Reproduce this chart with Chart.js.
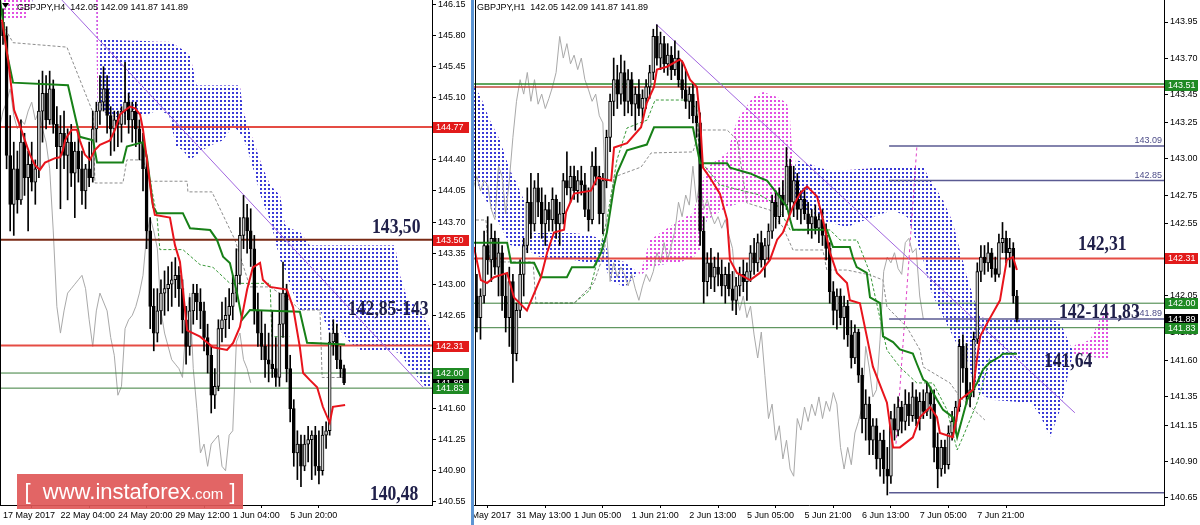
<!DOCTYPE html>
<html lang="en">
<head>
<meta charset="UTF-8">
<title>GBPJPY H4 / H1</title>
<script src="https://cdn.jsdelivr.net/npm/chart.js"></script>
<style>
  body { margin: 0; background: #fff; }
  #wrap { position: relative; width: 1200px; height: 525px; overflow: hidden; background: #fff; }
  #h4Chart { position: absolute; left: 0; top: 0; z-index: 2; }
  #h1Chart { position: absolute; left: 454px; top: 0; z-index: 1; }
  .separator { position: absolute; left: 471px; top: 0; width: 3px; height: 525px; background: #5d95d3; z-index: 3; }
  .watermark {
    position: absolute; left: 17px; top: 474px; width: 226px; height: 35px; z-index: 4;
    background: rgba(224, 88, 88, 0.92); color: #fff; white-space: nowrap;
    font-family: 'Liberation Sans', Arial, sans-serif; font-size: 22px; line-height: 35px; text-align: center;
  }
  .watermark .com { font-size: 15px; }
</style>
</head>
<body>
<div id="wrap">
  <canvas id="h4Chart" width="472" height="525"></canvas>
  <canvas id="h1Chart" width="746" height="525"></canvas>
  <div class="separator"></div>
  <div class="watermark">[&nbsp; www.instaforex<span class="com">.com</span> ]</div>
</div>

<script>
// ================= H4 panel data =================
const h4Open = [
  145.95,145.80,144.45,143.90,144.30,143.95,144.60,144.20,144.35,144.15,
  144.30,144.95,145.15,144.85,145.20,144.80,144.55,144.70,144.45,144.60,
  144.25,144.50,144.30,144.05,144.30,144.20,144.75,144.95,145.05,145.20,
  144.90,144.75,144.85,144.80,144.95,145.05,144.85,144.95,144.75,144.60,
  144.30,143.60,142.75,142.45,142.70,142.90,142.95,143.00,143.05,143.10,
  142.95,142.60,142.30,142.70,142.90,142.80,142.70,142.40,142.20,141.75,
  141.85,142.50,142.60,142.65,142.75,142.90,143.10,143.55,143.75,143.60,
  143.40,142.70,142.45,142.30,142.15,142.10,142.05,141.95,142.55,142.90,
  142.05,141.60,141.10,141.20,140.95,141.20,141.25,141.30,140.95,140.90,
  141.30,141.35,142.35,142.45,142.15,142.05];
const h4High = [
  146.10,145.90,144.90,144.60,144.50,144.85,144.70,144.50,144.60,144.40,
  145.30,145.40,145.35,145.40,145.30,145.00,144.90,144.95,144.75,144.80,
  144.60,144.70,144.50,144.35,144.60,144.95,145.05,145.35,145.45,145.35,
  145.00,144.95,144.95,145.00,145.50,145.15,145.05,145.05,144.85,144.70,
  144.40,143.75,142.95,142.95,143.05,143.15,143.20,143.25,143.30,143.20,
  143.05,142.75,142.85,143.00,143.00,142.95,142.80,142.55,142.30,142.05,
  142.60,142.80,142.85,142.95,143.10,143.40,143.75,144.00,143.90,143.85,
  143.55,142.90,142.70,142.55,142.45,142.70,142.40,142.90,143.25,143.00,
  142.20,141.70,141.35,141.30,141.30,141.40,141.35,141.40,141.35,141.40,
  141.45,142.45,142.60,142.55,142.30,142.09];
const h4Low = [
  145.70,144.30,143.60,143.55,143.80,143.90,144.00,143.60,144.05,143.90,
  144.20,144.60,144.75,144.80,144.70,144.30,143.85,144.30,143.95,144.10,
  143.75,144.15,143.90,143.85,144.10,144.15,144.60,144.80,144.95,144.70,
  144.45,144.50,144.55,144.60,144.80,144.70,144.60,144.55,144.40,144.05,
  143.40,142.50,142.25,142.35,142.55,142.65,142.70,142.75,142.85,142.75,
  142.45,142.10,142.20,142.55,142.60,142.50,142.25,142.00,141.55,141.60,
  141.80,142.35,142.40,142.50,142.60,142.80,143.00,143.40,143.35,143.20,
  142.55,142.30,142.15,141.95,141.90,141.95,141.85,141.85,142.40,141.90,
  141.45,140.95,140.80,140.72,140.90,141.00,140.80,140.85,140.75,140.85,
  141.15,141.30,142.20,142.05,141.95,141.87];
const h4Close = [
  145.80,144.45,143.90,144.30,143.95,144.60,144.20,144.35,144.15,144.30,
  144.95,145.15,144.85,145.20,144.80,144.55,144.70,144.45,144.60,144.25,
  144.50,144.30,144.05,144.30,144.20,144.75,144.95,145.05,145.20,144.90,
  144.75,144.85,144.80,144.95,145.05,144.85,144.95,144.75,144.60,144.30,
  143.60,142.75,142.45,142.70,142.90,142.95,143.00,143.05,143.10,142.95,
  142.60,142.30,142.70,142.90,142.80,142.70,142.40,142.20,141.75,141.85,
  142.50,142.60,142.65,142.75,142.90,143.10,143.55,143.75,143.60,143.40,
  142.70,142.45,142.30,142.15,142.10,142.05,141.95,142.55,142.90,142.05,
  141.60,141.10,141.20,140.95,141.20,141.25,141.30,140.95,140.90,141.30,
  141.35,142.35,142.45,142.15,142.05,141.89];

// tenkan / kijun vertices [bar, price]
const h4Tenkan = [[-0.3,145.98],[1.4,145.53],[3.1,144.96],[4.7,144.79],[6.1,144.62],[7.5,144.46],[8.9,144.34],[10.3,144.29],[11.7,144.37],[14.5,144.42],[15.9,144.43],[16.7,144.51],[17.3,144.62],[18.1,144.68],[19.2,144.74],[20.6,144.74],[21.4,144.62],[22.8,144.46],[24.2,144.40],[25.6,144.51],[27,144.57],[29.8,144.62],[31.2,144.74],[32.6,144.91],[34,144.96],[35.4,145.00],[36.8,144.98],[38.2,144.91],[39,144.74],[40.1,144.40],[41.5,143.95],[42.3,143.78],[46.5,143.75],[47.9,143.44],[49.3,143.25],[51.3,142.48],[54.9,142.41],[58.5,142.29],[62.4,142.26],[64.1,142.34],[66,142.52],[68,142.94],[69.6,143.19],[71.6,143.24],[72.4,143.05],[74.4,142.97],[79.1,142.94],[80.8,142.74],[82.7,142.29],[83.6,142.00],[85.5,141.92],[87.5,141.84],[89.1,141.62],[91,141.44],[91.9,141.62],[95.3,141.64]];
const h4Kijun = [[-0.8,146.20],[1.1,145.60],[2.8,145.27],[18.1,145.24],[21.4,144.66],[25.1,144.62],[26.2,144.37],[33.4,144.37],[34.5,144.55],[39,144.60],[40.1,144.43],[41.8,143.87],[42.9,143.80],[50.1,143.80],[52.1,143.63],[57.7,143.61],[59.6,143.50],[61.3,143.31],[63.2,143.24],[65.2,142.90],[66.6,142.60],[68.8,142.71],[82.7,142.69],[84.7,142.34],[95.3,142.32]];

// cloud: bar positions, span A, span B
const h4CloudBar = [0,6.1,8.9,24.2,25.9,26.3,27.2,31.2,40.1,43.2,46.2,48.2,50.1,52.1,54,57.1,61.3,64.1,66,66.9,68.2,70.2,72.1,74.4,77.2,78.6,79.9,82.7,85.5,88.3,91.1,93,96.7,99.4,109.2,110.6,112.8,116.2,117.8,119.5];
const h4SpanA = [146.53,146.53,146.53,146.42,146.42,146.40,144.96,144.88,144.91,144.96,144.91,144.55,144.51,144.40,144.46,144.55,144.62,144.79,144.70,144.65,144.51,144.23,143.95,143.72,143.27,143.16,142.99,142.71,142.71,142.71,142.44,142.52,142.34,142.26,142.24,142.22,142.09,141.92,141.84,141.86];
const h4SpanB = [145.98,145.98,146.26,146.31,146.26,144.96,145.75,145.75,145.74,145.73,145.73,145.69,145.64,145.58,145.24,145.24,145.24,145.24,145.24,144.96,144.79,144.57,144.34,144.12,144.00,143.67,143.63,143.59,143.44,143.44,143.44,143.44,143.44,143.44,143.44,143.10,142.82,142.74,142.59,142.48];

// dashed reference lines [bar, price]
const h4GrayDash = [[0,145.92],[2.8,145.72],[17.8,145.67],[25.1,144.93],[25.6,144.14],[33.4,144.14],[34.5,144.40],[39,144.40],[40.9,144.16],[51.3,144.16],[51.5,144.04],[58.2,144.04],[64.6,143.50],[68.8,142.97],[74.4,142.97],[79.9,142.82],[82.7,142.71],[88.3,142.71],[88.9,141.95],[95.3,141.95]];
const h4GreenDash = [[39,144.63],[40.9,144.18],[42.9,143.76],[43.7,143.39],[50.1,143.39],[54.9,143.22],[58.5,143.19],[63.2,143.01],[74.4,143.01],[74.9,142.41],[79.9,142.41]];
const h4Trend = [[16.4,146.20],[117,141.84]];

const h4Levels = [144.77, 143.50, 142.31, 142.00, 141.83];
const h4BoxPrices = [141.89, 144.77, 143.50, 142.31, 142.00, 141.83];
const h4TickBars = [0, 16, 32, 48, 64, 80];
const h4TickLabels = ['17 May 2017', '22 May 04:00', '24 May 20:00', '29 May 12:00', '1 Jun 04:00', '5 Jun 20:00'];
const h4PriceTicks = [146.15,145.80,145.45,145.10,144.75,144.40,144.05,143.70,143.35,143.00,142.65,142.30,141.95,141.60,141.25,140.90,140.55];
const h4Notes = ['143,50', '142,85-143', '140,48'];

// ================= H1 panel data =================
const h1Open = [
  142.05,141.90,142.05,142.40,142.30,142.45,142.25,142.35,142.05,141.90,
  142.15,141.65,141.95,142.20,142.40,142.70,142.55,142.80,142.70,142.55,
  142.65,142.58,142.72,142.55,142.62,142.85,142.80,142.88,142.78,142.85,
  142.82,142.65,142.58,142.95,142.88,142.62,142.85,143.15,143.40,143.55,
  143.45,143.60,143.40,143.55,143.38,143.45,143.35,143.42,143.50,143.60,
  143.85,143.70,143.80,143.66,143.72,143.62,143.70,143.55,143.48,143.40,
  143.45,143.30,143.25,142.50,142.15,142.28,142.18,142.25,142.20,142.12,
  142.20,142.10,142.02,142.12,142.20,142.15,142.22,142.35,142.28,142.42,
  142.30,142.40,142.50,142.70,142.60,142.75,142.68,142.95,142.70,142.85,
  142.65,142.72,142.62,142.55,142.60,142.52,142.58,142.47,142.38,142.08,
  141.95,142.05,141.90,141.98,141.78,141.62,141.80,141.50,141.20,141.30,
  141.05,141.15,140.92,141.05,140.85,140.80,141.20,141.12,141.28,141.18,
  141.30,141.22,141.35,141.20,141.32,141.25,141.38,141.30,141.00,140.85,
  141.00,140.88,141.10,141.18,141.28,141.70,141.55,141.35,141.40,141.75,
  142.22,142.32,142.28,142.35,142.24,142.20,142.42,142.45,142.35,142.38,
  142.05];
const h1High = [
  142.20,142.10,142.50,142.60,142.55,142.50,142.45,142.40,142.20,142.25,
  142.20,142.00,142.30,142.45,142.80,142.90,142.85,142.90,142.80,142.75,
  142.70,142.80,142.75,142.70,142.90,143.05,142.95,142.95,142.92,142.95,
  142.90,142.80,143.05,143.08,142.95,142.90,143.20,143.45,143.70,143.65,
  143.72,143.68,143.62,143.60,143.50,143.55,143.48,143.55,143.65,143.90,
  143.93,143.88,143.85,143.80,143.78,143.82,143.75,143.68,143.62,143.50,
  143.52,143.40,143.32,142.60,142.35,142.38,142.32,142.35,142.30,142.25,
  142.28,142.22,142.18,142.25,142.30,142.28,142.40,142.45,142.48,142.50,
  142.45,142.55,142.75,142.78,142.80,142.85,143.08,143.00,142.95,142.90,
  142.78,142.80,142.70,142.65,142.68,142.62,142.65,142.55,142.42,142.15,
  142.10,142.10,142.05,142.02,141.88,141.85,141.82,141.55,141.40,141.35,
  141.20,141.20,141.10,141.12,141.00,141.25,141.30,141.35,141.32,141.40,
  141.38,141.45,141.40,141.38,141.40,141.45,141.42,141.40,141.10,141.05,
  141.05,141.15,141.25,141.32,141.75,141.78,141.72,141.45,141.80,142.28,
  142.40,142.40,142.42,142.38,142.32,142.48,142.56,142.50,142.45,142.42,
  142.09];
const h1Low = [
  141.80,141.75,142.00,142.20,142.15,142.20,142.05,141.95,141.80,141.70,
  141.45,141.60,141.90,142.05,142.35,142.45,142.50,142.60,142.45,142.40,
  142.50,142.50,142.45,142.40,142.55,142.75,142.70,142.72,142.70,142.75,
  142.60,142.50,142.55,142.82,142.55,142.48,142.80,143.05,143.30,143.35,
  143.38,143.30,143.32,143.30,143.20,143.30,143.25,143.35,143.42,143.55,
  143.65,143.62,143.60,143.58,143.55,143.58,143.50,143.42,143.35,143.28,
  143.25,143.15,142.40,142.00,142.05,142.10,142.08,142.12,142.05,142.00,
  142.05,141.95,141.92,142.05,142.08,142.02,142.15,142.20,142.22,142.25,
  142.18,142.30,142.45,142.52,142.55,142.60,142.65,142.62,142.60,142.58,
  142.55,142.58,142.48,142.45,142.48,142.42,142.40,142.30,142.00,141.85,
  141.82,141.85,141.75,141.70,141.55,141.58,141.45,141.10,141.05,140.95,
  140.95,140.85,140.80,140.75,140.67,140.75,141.05,141.08,141.10,141.12,
  141.15,141.18,141.15,141.12,141.20,141.22,141.20,140.90,140.72,140.80,
  140.82,140.85,141.05,141.10,141.25,141.45,141.30,141.28,141.35,141.72,
  142.15,142.20,142.22,142.18,142.15,142.18,142.35,142.28,142.25,142.00,
  141.87];
const h1Close = [
  141.90,142.05,142.40,142.30,142.45,142.25,142.35,142.05,141.90,142.15,
  141.65,141.95,142.20,142.40,142.70,142.55,142.80,142.70,142.55,142.65,
  142.58,142.72,142.55,142.62,142.85,142.80,142.88,142.78,142.85,142.82,
  142.65,142.58,142.95,142.88,142.62,142.85,143.15,143.40,143.55,143.45,
  143.60,143.40,143.55,143.38,143.45,143.35,143.42,143.50,143.60,143.85,
  143.70,143.80,143.66,143.72,143.62,143.70,143.55,143.48,143.40,143.45,
  143.30,143.25,142.50,142.15,142.28,142.18,142.25,142.20,142.12,142.20,
  142.10,142.02,142.12,142.20,142.15,142.22,142.35,142.28,142.42,142.30,
  142.40,142.50,142.70,142.60,142.75,142.68,142.95,142.70,142.85,142.65,
  142.72,142.62,142.55,142.60,142.52,142.58,142.47,142.38,142.08,141.95,
  142.05,141.90,141.98,141.78,141.62,141.80,141.50,141.20,141.30,141.05,
  141.15,140.92,141.05,140.85,140.80,141.20,141.12,141.28,141.18,141.30,
  141.22,141.35,141.20,141.32,141.25,141.38,141.30,141.00,140.85,141.00,
  140.88,141.10,141.18,141.28,141.70,141.55,141.35,141.40,141.75,142.22,
  142.32,142.28,142.35,142.24,142.20,142.42,142.45,142.35,142.38,142.05,
  141.89];

const h1Tenkan = [[-0.8,142.39],[1.1,142.16],[2.8,142.14],[4.75,142.18],[8.4,142.21],[10.3,142.04],[13.9,141.95],[17.8,142.18],[19.5,142.35],[21.4,142.49],[24.2,142.51],[24.75,142.63],[27,142.76],[31.7,142.78],[33.4,142.87],[37.3,142.85],[38.1,143.08],[41.7,143.11],[45.6,143.22],[47.2,143.39],[49.2,143.50],[50,143.62],[52.8,143.64],[56.4,143.69],[57.2,143.67],[59.2,143.55],[61.1,143.50],[62,143.27],[62.8,142.94],[64.75,142.87],[67.5,142.76],[69.5,142.58],[70.3,142.30],[72.25,142.21],[75.9,142.16],[78.6,142.21],[81.4,142.30],[83.4,142.44],[85,142.49],[87.8,142.67],[89.75,142.76],[91.7,142.81],[94.5,142.74],[96.1,142.58],[98.1,142.35],[100,142.21],[102.8,142.14],[103.6,142.02],[106.4,142.00],[108.3,141.77],[110,141.56],[113.9,141.31],[115.6,141.00],[117.5,141.00],[121.1,141.07],[123.1,141.21],[125.9,141.28],[127.8,141.21],[128.6,141.10],[132.2,141.07],[134.2,141.33],[137.8,141.40],[139,141.63],[139.8,141.77],[141.7,141.86],[145.3,142.02],[146.1,142.14],[147.2,142.30],[148.9,142.32],[150,142.23]];
const h1Kijun = [[-0.8,142.42],[8.4,142.42],[9.5,142.28],[15.9,142.28],[17.8,142.18],[25,142.18],[26.4,142.25],[32.5,142.25],[34.5,142.35],[36.1,142.49],[38.1,142.81],[38.9,142.90],[41.7,143.06],[47.2,143.10],[49.2,143.22],[60,143.22],[62,142.97],[69.5,142.97],[70.3,142.94],[75.9,142.90],[78.6,142.87],[80.6,142.85],[83.4,142.76],[86.1,142.67],[87,142.58],[87.8,142.51],[97.2,142.51],[98.9,142.39],[103.6,142.39],[104.4,142.32],[105.5,142.25],[108.3,142.21],[109.2,142.04],[112,142.00],[112.8,141.77],[115.6,141.73],[117.5,141.68],[121.1,141.65],[122.2,141.58],[124,141.47],[125.1,141.45],[127.8,141.33],[129.5,141.26],[132.2,141.21],[133.4,141.07],[136.2,141.33],[139,141.45],[140.6,141.54],[142.5,141.59],[145.3,141.63],[146.1,141.65],[150,141.65]];

const h1CloudBar = [-6.4,-0.8,0.9,3.6,6.4,9.2,11.1,13.9,15,17.5,27,31.4,35.3,37,41.1,45.6,48.1,50.9,56.4,60,61.9,63.9,69.5,72.3,76.7,79.5,83.4,86.1,87,88.6,91.7,97.2,102.8,110,115.6,119.5,124,126,129.5,132.3,134.2,136.2,137.9,139.8,143.6,153.9,156.4,159.2,162,164.2,166.1,170.3,173,175.8];
const h1SpanA = [142.92,142.854,142.785,142.667,142.542,142.403,142.389,142.369,142.355,142.320,142.300,142.279,142.286,142.161,142.112,142.230,142.438,142.487,142.577,142.626,142.785,142.944,143.042,143.270,143.430,143.465,143.430,143.388,143.270,142.667,142.646,142.563,142.528,142.598,142.646,142.598,142.300,142.091,141.904,141.766,141.675,141.606,141.447,141.363,141.329,141.308,141.225,141.072,141.259,141.502,141.710,141.745,141.883,141.967];
const h1SpanB = [143.62,143.499,143.444,143.270,143.132,142.924,142.833,142.667,142.487,142.487,142.487,142.473,142.438,142.313,142.286,142.196,142.251,142.265,142.286,142.313,142.369,142.577,142.667,142.688,142.688,142.688,142.688,142.681,142.681,142.993,142.972,142.924,142.924,142.937,142.944,142.944,142.944,142.854,142.716,142.556,142.369,142.182,142.043,141.904,141.883,141.883,141.883,141.883,141.870,141.745,141.641,141.627,141.620,141.620];

const h1GrayDash = [[-0.25,142.577],[2.5,142.577],[3.6,142.286],[15.6,142.286],[16.4,142.001],[27,142.001],[32.5,142.140],[35.3,142.348],[38.1,142.875],[45.6,142.944],[48.4,143.042],[60,143.049],[61.9,143.201],[69.5,143.201],[72.3,143.132],[75,142.695],[81.4,142.646],[85,142.528],[87.8,142.369],[96.1,142.369],[97.2,142.230],[102.8,142.230],[109.2,142.196],[112.8,142.161],[113.9,141.974],[119.4,141.835],[123.1,141.675],[124,141.557],[131.4,141.447],[134.2,141.349],[141.1,141.190]];
const h1GreenDash = [[7.8,142.001],[27,142.001],[31.4,142.091],[34.2,142.369],[36.1,142.577],[38.9,142.993],[41.7,143.215],[47.3,143.270],[49.5,143.409],[59.2,143.409],[61.1,143.340],[61.9,142.993],[67.5,142.820],[78.6,142.750],[83.4,142.681],[87,142.508],[98.1,142.508],[100.9,142.438],[105.6,142.438],[109.2,142.209],[113.9,141.675],[117.5,141.557],[122.2,141.447],[126.7,141.447],[130.6,141.259],[133.4,140.982],[135,141.072],[138.9,141.308],[140.6,141.447],[142.5,141.627]];
const h1PinkDash = [[122.2,143.08],[116.4,141.02]];
const h1Trend = [[49.75,143.936],[166.1,141.24]];

const h1Levels = [143.52, 143.50, 142.31, 142.00, 141.83];
const h1Segments = [143.09, 142.85, 141.89, 140.685];
const h1SegmentStart = 114.5;
const h1SmallLabels = ['143.09', '142.85', '141.89'];
const h1BoxPrices = [141.89, 143.51, 142.31, 142.00, 141.83];
const h1TickBars = [-5, 11, 27, 43, 59, 75, 91, 107, 123, 139];
const h1TickLabels = ['30 May 2017', '31 May 13:00', '1 Jun 05:00', '1 Jun 21:00', '2 Jun 13:00', '5 Jun 05:00', '5 Jun 21:00', '6 Jun 13:00', '7 Jun 05:00', '7 Jun 21:00'];
const h1PriceTicks = [143.95,143.70,143.45,143.25,143.00,142.75,142.55,142.30,142.05,141.80,141.60,141.35,141.15,140.90,140.65];
const h1Notes = ['142,31', '142-141,83', '141,64'];

// ================= drawing =================
const FONT = "'Liberation Sans', Arial, sans-serif";
const RED = 'rgba(226,56,48,0.9)';
const GREEN = '#3b7e3b';
const BOX_RED = '#e21b1b';
const BOX_GREEN = '#1f8a24';
const CLOUD_UP = 'rgb(226,80,226)';
const CLOUD_DOWN = 'rgb(58,58,214)';

function pts(list) { return list.map(([x, y]) => ({ x, y })); }

// dotted fill like the terminal's hatched cloud (2x2 dots keep their colour on even pixels)
function dots(color) {
  const tile = document.createElement('canvas');
  tile.width = 4; tile.height = 4;
  const t = tile.getContext('2d');
  t.fillStyle = color;
  t.fillRect(0, 0, 2, 2);
  return t.createPattern(tile, 'repeat');
}

function line(data, color, width, order, dash) {
  return { type: 'line', data, borderColor: color, borderWidth: width, borderDash: dash || [],
           pointRadius: 0, fill: false, tension: 0, order };
}

function candles(open, high, low, close) {
  return [
    { type: 'bar', order: 9, grouped: false, barThickness: 1,
      data: high.map((h, i) => ({ x: i, y: [low[i], h] })), backgroundColor: '#000' },
    { type: 'bar', order: 8, grouped: false, barThickness: 3, minBarLength: 1,
      data: open.map((o, i) => ({ x: i, y: [o, close[i]] })),
      backgroundColor: close.map((c, i) => c >= open[i] ? '#cfcfcf' : '#000'),
      borderColor: '#000', borderWidth: 1, borderSkipped: false }
  ];
}

function cloud(bars, a, b) {
  return [
    { type: 'line', order: 20, pointRadius: 0, tension: 0, borderWidth: 1, borderColor: 'rgba(0,0,0,0)',
      data: bars.map((x, k) => ({ x, y: a[k] })),
      fill: { target: '+1', above: dots(CLOUD_UP), below: dots(CLOUD_DOWN) } },
    { type: 'line', order: 20, pointRadius: 0, tension: 0, borderWidth: 1, borderColor: 'rgba(0,0,0,0)',
      data: bars.map((x, k) => ({ x, y: b[k] })), fill: false }
  ];
}

function axes(xMin, xMax, yMin, yMax, yWidth, tickBars, tickLabels, priceTicks) {
  return {
    x: {
      type: 'linear', min: xMin, max: xMax, offset: false,
      afterBuildTicks: s => { s.ticks = tickBars.map(v => ({ value: v })); },
      afterFit: s => { s.height = 20; s.paddingLeft = 0; s.paddingRight = 0; },
      ticks: { autoSkip: false, maxRotation: 0, align: 'start', padding: 2, color: '#000',
               font: { family: FONT, size: 9 }, callback: (v, i) => tickLabels[i] },
      grid: { drawOnChartArea: false, tickLength: 3, color: '#000' },
      border: { display: true, color: '#000' }
    },
    y: {
      type: 'linear', position: 'right', min: yMin, max: yMax,
      afterBuildTicks: s => { s.ticks = priceTicks.map(v => ({ value: v })); },
      afterFit: s => { s.width = yWidth; s.paddingTop = 0; s.paddingBottom = 0; },
      ticks: { autoSkip: false, padding: 2, color: '#000', font: { family: FONT, size: 9 },
               callback: v => v.toFixed(2) },
      grid: { drawOnChartArea: false, tickLength: 4, color: '#000' },
      border: { display: true, color: '#000' }
    }
  };
}

function overlay(o) {
  return {
    id: 'overlay',
    beforeDraw(chart) {
      const c = chart.ctx;
      c.save(); c.fillStyle = '#fff'; c.fillRect(0, 0, chart.width, chart.height); c.restore();
    },
    afterDraw(chart) {
      const c = chart.ctx, area = chart.chartArea, xs = chart.scales.x, ys = chart.scales.y;
      c.save();
      c.strokeStyle = '#000'; c.lineWidth = 1;
      c.beginPath(); c.moveTo(o.frameX + 0.5, 0); c.lineTo(o.frameX + 0.5, area.bottom); c.stroke();

      c.fillStyle = '#000'; c.font = '9px ' + FONT; c.textAlign = 'left'; c.textBaseline = 'alphabetic';
      c.fillText(o.caption, o.captionX, 10);
      if (o.marker) {
        c.beginPath(); c.moveTo(2, 3); c.lineTo(9, 3); c.lineTo(5.5, 8); c.closePath(); c.fill();
      }

      // small captions above segment levels
      c.fillStyle = '#4d4d88'; c.textAlign = 'right';
      (o.small || []).forEach((t, k) => c.fillText(t, area.right - 2, ys.getPixelForValue(o.smallAt[k]) - 3));

      // big notes
      c.fillStyle = '#20204a'; c.textAlign = 'left';
      c.font = 'bold 22px "Liberation Serif", serif';
      o.notes.forEach((t, k) => {
        const [bx, py] = o.noteAt[k];
        c.save();
        c.translate(xs.getPixelForValue(bx), ys.getPixelForValue(py));
        c.scale(0.8, 1);
        c.fillText(t, 0, 0);
        c.restore();
      });

      // price boxes on the axis
      c.font = '9px ' + FONT; c.textBaseline = 'middle';
      o.boxes.forEach((p, k) => {
        const y = Math.round(ys.getPixelForValue(p));
        c.fillStyle = o.boxColors[k];
        c.fillRect(area.right + 1, y - 5, o.boxWidth, 11);
        c.fillStyle = '#fff';
        c.fillText(p.toFixed(2), area.right + 4, y + 0.5);
      });
      c.restore();
    }
  };
}

const baseOptions = {
  responsive: false, animation: false, devicePixelRatio: 1, events: [],
  layout: { padding: 0, autoPadding: false },
  plugins: { legend: { display: false }, tooltip: { enabled: false }, title: { display: false } }
};

// ---------- H4 chart ----------
const H4_X = [-0.836, 119.5];
const H4_Y = [140.514, 146.2007];
const h4LevelColors = [RED, '#7a2a14', RED, GREEN, GREEN];
const h4LevelWidths = [2, 2, 2, 1, 1];

new Chart(document.getElementById('h4Chart'), {
  type: 'line',
  data: {
    datasets: [
      ...cloud(h4CloudBar, h4SpanA, h4SpanB),
      line(pts(h4GrayDash), '#8d8d8d', 1, 16, [3, 2]),
      line(pts(h4GreenDash), '#3a9a3a', 1, 16, [3, 2]),
      line(h4Close.map((c, i) => ({ x: i - 26, y: c })), '#a9a9a9', 1, 15),
      ...h4Levels.map((p, k) => line([{ x: H4_X[0], y: p }, { x: H4_X[1], y: p }], h4LevelColors[k], h4LevelWidths[k], 12)),
      line(pts(h4Trend), '#a266e0', 1, 11),
      ...candles(h4Open, h4High, h4Low, h4Close),
      line(pts(h4Kijun), '#178017', 2, 7),
      line(pts(h4Tenkan), '#e8141c', 2, 6)
    ]
  },
  options: { ...baseOptions, scales: axes(H4_X[0], H4_X[1], H4_Y[0], H4_Y[1], 40, h4TickBars, h4TickLabels, h4PriceTicks) },
  plugins: [overlay({
    frameX: 0, caption: 'GBPJPY,H4  142.05 142.09 141.87 141.89', captionX: 17, marker: true,
    notes: h4Notes, noteAt: [[102.8, 143.577], [96.1, 142.653], [102.2, 140.57]],
    boxes: h4BoxPrices, boxColors: ['#000', BOX_RED, BOX_RED, BOX_RED, BOX_GREEN, BOX_GREEN], boxWidth: 36
  })]
});

// ---------- H1 chart ----------
const H1_X = [-6.361, 190.86];
const H1_Y = [140.6005, 144.1026];
const h1LevelColors = ['#2a8a2a', '#c2483c', RED, GREEN, GREEN];
const h1LevelWidths = [1.5, 1.5, 2, 1, 1];

new Chart(document.getElementById('h1Chart'), {
  type: 'line',
  data: {
    datasets: [
      ...cloud(h1CloudBar, h1SpanA, h1SpanB),
      line(pts(h1GrayDash), '#8d8d8d', 1, 16, [3, 2]),
      line(pts(h1GreenDash), '#3a9a3a', 1, 16, [3, 2]),
      line(pts(h1PinkDash), '#e040c8', 1, 16, [3, 3]),
      line(h1Close.map((c, i) => ({ x: i - 26, y: c })), '#a9a9a9', 1, 15),
      ...h1Levels.map((p, k) => line([{ x: H1_X[0], y: p }, { x: H1_X[1], y: p }], h1LevelColors[k], h1LevelWidths[k], 12)),
      ...h1Segments.map(p => line([{ x: h1SegmentStart, y: p }, { x: H1_X[1], y: p }], '#5a5a92', 1.5, 12)),
      line(pts(h1Trend), '#a266e0', 1, 11),
      ...candles(h1Open, h1High, h1Low, h1Close),
      line(pts(h1Kijun), '#178017', 2, 7),
      line(pts(h1Tenkan), '#e8141c', 2, 6)
    ]
  },
  options: { ...baseOptions, scales: axes(H1_X[0], H1_X[1], H1_Y[0], H1_Y[1], 36, h1TickBars, h1TickLabels, h1PriceTicks) },
  plugins: [overlay({
    frameX: 21, caption: 'GBPJPY,H1  142.05 142.09 141.87 141.89', captionX: 23, marker: false,
    small: h1SmallLabels, smallAt: [143.09, 142.85, 141.89],
    notes: h1Notes, noteAt: [[167, 142.369], [161.7, 141.897], [157.5, 141.557]],
    boxes: h1BoxPrices, boxColors: ['#000', BOX_GREEN, BOX_RED, BOX_GREEN, BOX_GREEN], boxWidth: 33
  })]
});
</script>
</body>
</html>
